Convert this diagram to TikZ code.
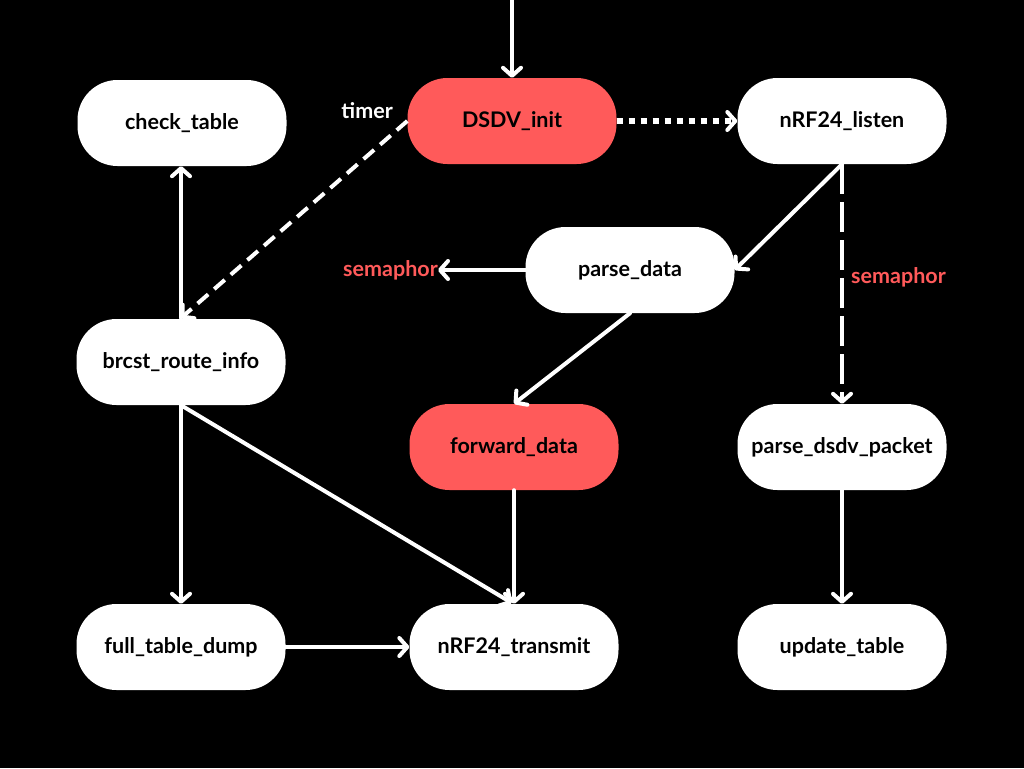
\documentclass[tikz,border=0pt]{standalone}
\usepackage{fontspec}
\setmainfont{Lato}
\usetikzlibrary{arrows.meta}
\definecolor{hot}{HTML}{FF5A5A}
\begin{document}
\begin{tikzpicture}[x=1pt,y=-1pt,
  box/.style={fill=white, rounded corners=40pt, minimum width=209pt, minimum height=86pt,
              inner sep=0pt, font=\fontsize{21.5}{24}\selectfont\bfseries, text=black},
  hotbox/.style={box, fill=hot},
  arr/.style={draw=white, line width=4pt, line cap=round,
              -{Straight Barb[length=8pt,width=18pt,line width=4pt,round]}},
  lbl/.style={font=\fontsize{21.5}{24}\selectfont\bfseries, inner sep=0pt},
]
\fill[black] (0,0) rectangle (1024,768);
\useasboundingbox (0,0) rectangle (1024,768);

% process nodes
\node[box]    (check)   at (182,123) {check\_table};
\node[hotbox] (init)    at (512,121) {DSDV\_init};
\node[box]    (listen)  at (842,121) {nRF24\_listen};
\node[box]    (parse)   at (630,270) {parse\_data};
\node[box]    (brcst)   at (181,362) {brcst\_route\_info};
\node[hotbox] (forward) at (514,447) {forward\_data};
\node[box]    (pdsdv)   at (842,447) {parse\_dsdv\_packet};
\node[box]    (dump)    at (181,647) {full\_table\_dump};
\node[box]    (tx)      at (514,647) {nRF24\_transmit};
\node[box]    (update)  at (842,647) {update\_table};

% labels
\node[lbl, text=white, anchor=east] (timer) at (393,111) {timer};
\node[lbl, text=hot, anchor=east] (sem1) at (438,270) {semaphor};
\node[lbl, text=hot, anchor=west] (sem2) at (851,277) {semaphor};

\coordinate (entry) at (512,0);
\coordinate (brcstTop) at (181,318);
\coordinate (txTop) at (512,603);

% connectors
\draw[arr] (entry) -- (init.north);
\draw[arr, line width=6pt, line cap=butt, dash pattern=on 6pt off 6pt,
      -{Straight Barb[length=8pt,width=18pt,line width=4pt,round]}]
      (init.east) -- (listen.west);
\draw[arr, line cap=butt, dash pattern=on 14pt off 8pt] (init.west) -- (brcstTop);
\draw[arr] (brcstTop) -- (check.south -| brcstTop);
\draw[arr] (listen.south) -- (parse.east);
\draw[arr, line cap=butt, dash pattern=on 30pt off 8pt] (listen.south) -- (pdsdv.north);
\draw[arr] (parse.west) -- (sem1.east);
\draw[arr] (parse.south) -- (forward.north);
\draw[arr] (brcst.south) -- (dump.north);
\draw[arr] (brcst.south) -- (txTop);
\draw[arr] (forward.south) -- (tx.north);
\draw[arr] (dump.east) -- (tx.west);
\draw[arr] (pdsdv.south) -- (update.north);
\end{tikzpicture}
\end{document}
